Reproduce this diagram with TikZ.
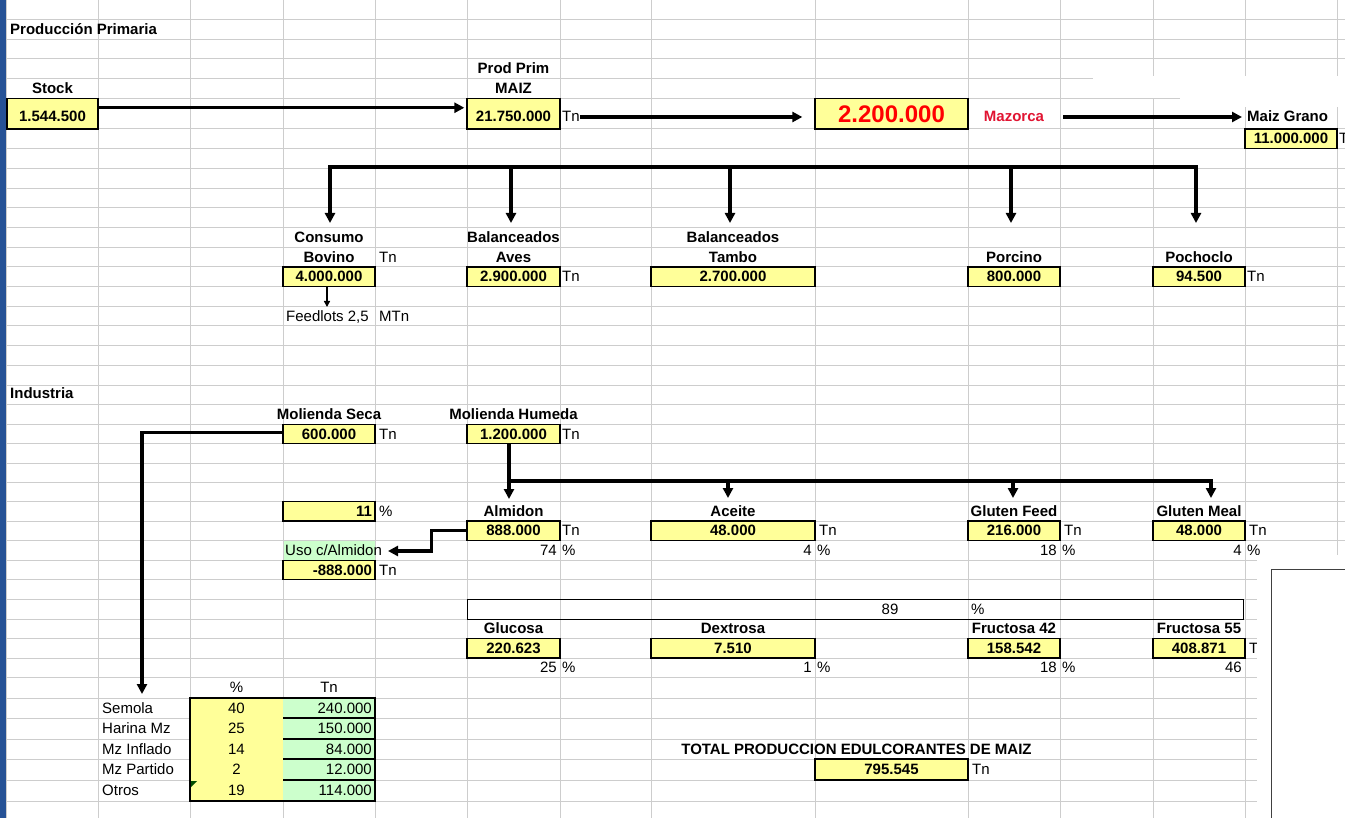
\documentclass[tikz,border=0pt]{standalone}
\usepackage{fontspec}
\setmainfont{Liberation Sans}
\usetikzlibrary{arrows.meta}
\definecolor{yel}{RGB}{255,255,153}
\definecolor{grn}{RGB}{204,255,204}
\definecolor{gridc}{RGB}{205,205,205}
\definecolor{xlblue}{RGB}{38,82,150}
\definecolor{mred}{RGB}{225,20,50}
\tikzset{
  lbl/.style={font=\fontsize{15}{17}\selectfont\bfseries, inner sep=0pt, text height=11pt, text depth=1pt},
  txt/.style={font=\fontsize{15}{17}\selectfont, inner sep=0pt, text height=11pt, text depth=1pt},
  ycell/.style={draw=black, line width=1.3pt, fill=yel, font=\fontsize{15}{17}\selectfont\bfseries, inner sep=0pt, minimum height=19.6pt, text height=11pt, text depth=1pt},
  rcell/.style={ycell, text width=86pt, align=right, inner xsep=3pt},
  conn/.style={line width=3.1pt, black},
  arr/.style={conn, -{Triangle[length=10pt,width=10pt]}},
  arrs/.style={line width=1.4pt, black, -{Triangle[length=6pt,width=6pt]}},
}
\begin{document}
\begin{tikzpicture}[x=1pt,y=-1pt]
\useasboundingbox (0,0) rectangle (1345,818);
\clip (0,0) rectangle (1345,818);
\fill[white] (0,0) rectangle (1345,818);
% grid
\foreach \y in {19.5,39.3,59,78.8,98.5,129,148.7,168.4,188.1,207.8,227.5,247.2,266.9,286.6,306.3,326,345.7,365.4,385.1,404.8,424.5,443.8,463.1,482.4,501.7,521,540.6,560.2,579.8,599.4,619,638.7,658,677,698,718,739,759,780,801}
  \draw[gridc, line width=1pt] (0,\y) -- (1345,\y);
\foreach \x in {6,98,190,283,375,467,560,651,815,968,1060,1153,1245,1337}
  \draw[gridc, line width=1pt] (\x,0) -- (\x,818);
\fill[white] (1093,76) rectangle (1345,98.5);
\fill[white] (1180,98.5) rectangle (1345,107);
\fill[xlblue] (0,0) rectangle (5.5,818);

% ---------- Produccion primaria ----------
\node[lbl, anchor=west] (hdr1) at (10,29.4) {Producción Primaria};
\node[lbl] (stockl) at (52.5,88.7) {Stock};
\node[ycell, minimum width=91pt, minimum height=30.5pt] (stock) at (52.5,113.75) {};
\node[lbl] (stockv) at (52.5,117) {1.544.500};
\node[lbl] (pp1) at (513.5,69) {Prod Prim};
\node[lbl] (pp2) at (513.5,88.7) {MAIZ};
\node[ycell, minimum width=93pt, minimum height=30.5pt] (pmaiz) at (513.5,113.75) {};
\node[lbl] (pmaizv) at (513.5,117) {21.750.000};
\node[txt, anchor=west] (tn1) at (562,117) {Tn};
\node[ycell, minimum width=153pt, minimum height=30.5pt] (big) at (891.5,113.75) {};
\node[font=\fontsize{24}{26}\selectfont\bfseries, text=red, inner sep=0pt] (bigv) at (891.5,114) {2.200.000};
\node[lbl, text=mred] (maz) at (1014,117) {Mazorca};
\node[lbl, anchor=west] (mgl) at (1247,117) {Maiz Grano};
\node[ycell, minimum width=92pt, minimum height=19.7pt] (mg) at (1291,138.85) {11.000.000};
\node[txt, anchor=west] (tn2) at (1339,138.85) {Tn};

\draw[arr, shorten >=2pt] ([yshift=6pt]stock.east) -- ([yshift=6pt]pmaiz.west);
\draw[arr, shorten >=12pt] (tn1.east) -- (tn1.east -| big.west);
\draw[arr, shorten <=19pt, shorten >=5pt] (maz.east) -- (maz.east -| mgl.west);

% tree
\coordinate (d1) at (330,167); \coordinate (e1) at (330,223);
\coordinate (d2) at (511,167); \coordinate (e2) at (511,223);
\coordinate (d3) at (730,167); \coordinate (e3) at (730,223);
\coordinate (d4) at (1011,167); \coordinate (e4) at (1011,223);
\coordinate (d5) at (1196,167); \coordinate (e5) at (1196,223);
\draw[conn, line cap=rect] (d1) -- (d5);
\foreach \i in {1,...,5} \draw[arr] (d\i) -- (e\i);

\node[lbl] (cons1) at (329,237.35) {Consumo};
\node[lbl] (cons2) at (329,257.05) {Bovino};
\node[txt, anchor=west] (tn3) at (379,257.05) {Tn};
\node[lbl] (av1) at (513.5,237.35) {Balanceados};
\node[lbl] (av2) at (513.5,257.05) {Aves};
\node[lbl] (ta1) at (733,237.35) {Balanceados};
\node[lbl] (ta2) at (733,257.05) {Tambo};
\node[lbl] (porl) at (1014,257.05) {Porcino};
\node[lbl] (pocl) at (1199,257.05) {Pochoclo};
\node[ycell, minimum width=92pt] (bov) at (329,276.75) {4.000.000};
\node[ycell, minimum width=93pt] (aves) at (513.5,276.75) {2.900.000};
\node[txt, anchor=west] (tn4) at (562,276.75) {Tn};
\node[ycell, minimum width=164pt] (tambo) at (733,276.75) {2.700.000};
\node[ycell, minimum width=92pt] (porc) at (1014,276.75) {800.000};
\node[ycell, minimum width=92pt] (poch) at (1199,276.75) {94.500};
\node[txt, anchor=west] (tn5) at (1247,276.75) {Tn};
\coordinate (f1) at (327,307);
\draw[arrs] (bov.south -| f1) -- (f1);
\node[txt, anchor=west] (feed) at (286,316.15) {Feedlots 2,5};
\node[txt, anchor=west] (mtn) at (379,316.15) {MTn};

% ---------- Industria ----------
\node[lbl, anchor=west] (hdr2) at (10,394) {Industria};
\node[lbl] (msl) at (329,414.6) {Molienda Seca};
\node[lbl] (mhl) at (513.5,414.6) {Molienda Humeda};
\node[ycell, minimum width=92pt, minimum height=19.3pt] (ms) at (329,434.15) {600.000};
\node[txt, anchor=west] (tn6) at (379,434.15) {Tn};
\node[ycell, minimum width=93pt, minimum height=19.3pt] (mh) at (513.5,434.15) {1.200.000};
\node[txt, anchor=west] (tn7) at (562,434.15) {Tn};

\coordinate (s2) at (142,694);
\draw[arr] ([yshift=2pt]ms.west) -| (s2);

\coordinate (h0) at (509,481);
\coordinate (hA) at (509,499);
\draw[arr] (mh.south -| h0) -- (hA);
\coordinate (h1) at (728,481); \coordinate (g1) at (728,498);
\coordinate (h2) at (1013,481); \coordinate (g2) at (1013,498);
\coordinate (h3) at (1211,481); \coordinate (g3) at (1211,498);
\draw[conn, line cap=rect] (h0) -- (h3);
\draw[arr] (h1) -- (g1);
\draw[arr] (h2) -- (g2);
\draw[arr] (h3) -- (g3);

\node[rcell, minimum height=19.3pt] (p11) at (329,511.35) {11};
\node[txt, anchor=west] (pc1) at (379,511.35) {\%};
\node[lbl] (alml) at (513.5,511.35) {Almidon};
\node[lbl] (acel) at (733,511.35) {Aceite};
\node[lbl] (gfl) at (1014,511.35) {Gluten Feed};
\node[lbl] (gml) at (1199,511.35) {Gluten Meal};

\node[ycell, minimum width=93pt] (alm) at (513.5,530.8) {888.000};
\node[txt, anchor=west] (tn8) at (562,530.8) {Tn};
\node[ycell, minimum width=164pt] (ace) at (733,530.8) {48.000};
\node[txt, anchor=west] (tn9) at (819,530.8) {Tn};
\node[ycell, minimum width=92pt] (gf) at (1014,530.8) {216.000};
\node[txt, anchor=west] (tn10) at (1064,530.8) {Tn};
\node[ycell, minimum width=92pt] (gm) at (1199,530.8) {48.000};
\node[txt, anchor=west] (tn11) at (1249,530.8) {Tn};

\node[fill=grn, minimum width=91pt, minimum height=19pt, inner sep=0pt] (usobg) at (329,550.4) {};
\node[txt, anchor=west] (uso) at (285,550.4) {Uso c/Almidon};
\node[txt, anchor=east] (q1) at (557,550.4) {74};
\node[txt, anchor=west] (q1p) at (562,550.4) {\%};
\node[txt, anchor=east] (q2) at (812,550.4) {4};
\node[txt, anchor=west] (q2p) at (817,550.4) {\%};
\node[txt, anchor=east] (q3) at (1057,550.4) {18};
\node[txt, anchor=west] (q3p) at (1062,550.4) {\%};
\node[txt, anchor=east] (q4) at (1242,550.4) {4};
\node[txt, anchor=west] (q4p) at (1247,550.4) {\%};
\coordinate (ut) at (388,551);
\draw[arr] (alm.west) -- ++(-35,0) |- (ut);

\node[rcell] (neg) at (329,570) {-888.000};
\node[txt, anchor=west] (tn12) at (379,570) {Tn};

\node[draw=black, line width=1pt, minimum width=776pt, minimum height=19.6pt, inner sep=0pt] (pbox) at (855,609.2) {};
\node[txt] (p89) at (890,609.2) {89};
\node[txt, anchor=west] (p89p) at (971,609.2) {\%};

\node[lbl] (glul) at (513.5,628.85) {Glucosa};
\node[lbl] (dexl) at (733,628.85) {Dextrosa};
\node[lbl] (f42l) at (1014,628.85) {Fructosa 42};
\node[lbl] (f55l) at (1199,628.85) {Fructosa 55};
\node[ycell, minimum width=93pt, minimum height=19.3pt] (glu) at (513.5,648.35) {220.623};
\node[ycell, minimum width=164pt, minimum height=19.3pt] (dex) at (733,648.35) {7.510};
\node[ycell, minimum width=92pt, minimum height=19.3pt] (f42) at (1014,648.35) {158.542};
\node[ycell, minimum width=92pt, minimum height=19.3pt] (f55) at (1199,648.35) {408.871};
\node[txt, anchor=west] (tn13) at (1249,648.35) {Tn};
\node[txt, anchor=east] (r1) at (557,667.5) {25};
\node[txt, anchor=west] (r1p) at (562,667.5) {\%};
\node[txt, anchor=east] (r2) at (812,667.5) {1};
\node[txt, anchor=west] (r2p) at (817,667.5) {\%};
\node[txt, anchor=east] (r3) at (1057,667.5) {18};
\node[txt, anchor=west] (r3p) at (1062,667.5) {\%};
\node[txt, anchor=east] (r4) at (1242,667.5) {46};

% table
\node[txt] (thp) at (236.5,687.5) {\%};
\node[txt] (tht) at (329,687.5) {Tn};
\fill[yel] (190,698) rectangle (283,801);
\fill[grn] (283,698) rectangle (375,801);
\foreach \y in {718,739,759,780} \draw[line width=1.3pt] (283,\y) -- (375,\y);
\draw[line width=1.6pt] (190,698) rectangle (375,801);
\fill[black!70!green] (191,781) -- (197,781) -- (191,787) -- cycle;
\foreach \n/\lab/\pc/\tn/\y in {a/Semola/40/240.000/708, b/Harina Mz/25/150.000/728.5, c/Mz Inflado/14/84.000/749, d/Mz Partido/2/12.000/769.5, e/Otros/19/114.000/790.5}{
  \node[txt, anchor=west] (l\n) at (102,\y) {\lab};
  \node[txt] (p\n) at (236.5,\y) {\pc};
  \node[txt, anchor=east] (t\n) at (372,\y) {\tn};
}

\node[lbl] (totl) at (856.5,749) {TOTAL PRODUCCION EDULCORANTES DE MAIZ};
\node[ycell, minimum width=153pt, minimum height=21pt] (tot) at (891.5,769.5) {795.545};
\node[txt, anchor=west] (tn14) at (972,769.5) {Tn};

% right white panel
\fill[white] (1257,555) rectangle (1345,818);
\draw[black!75, line width=1pt] (1271,569) rectangle (1350,830);
\end{tikzpicture}
\end{document}
